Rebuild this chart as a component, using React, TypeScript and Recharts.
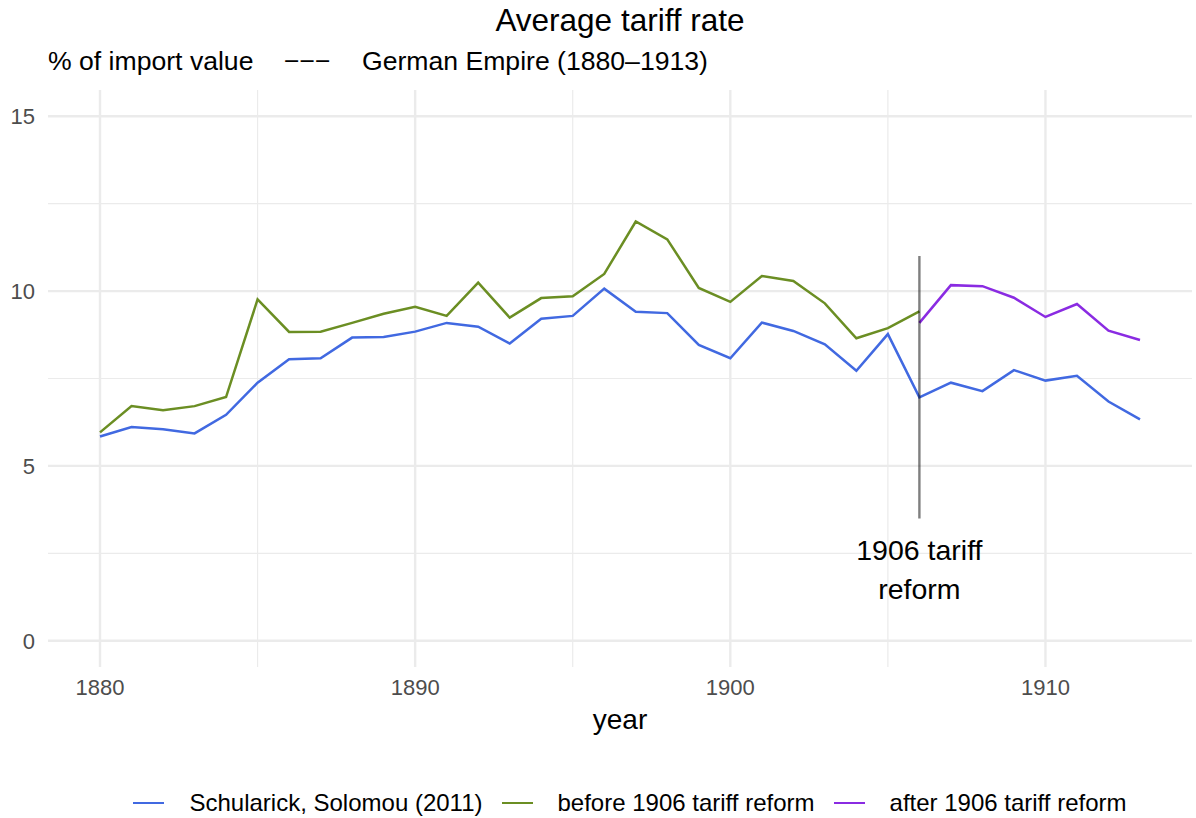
import React from 'react';
import { LineChart, Line, XAxis, YAxis, ReferenceLine, ReferenceDot, Legend } from 'recharts';

const years = [1880, 1881, 1882, 1883, 1884, 1885, 1886, 1887, 1888, 1889, 1890, 1891, 1892, 1893, 1894, 1895, 1896, 1897, 1898, 1899, 1900, 1901, 1902, 1903, 1904, 1905, 1906, 1907, 1908, 1909, 1910, 1911, 1912, 1913];
const schularick = [5.84, 6.11, 6.05, 5.93, 6.46, 7.38, 8.05, 8.08, 8.67, 8.69, 8.84, 9.09, 8.98, 8.50, 9.21, 9.29, 10.07, 9.41, 9.37, 8.46, 8.08, 9.10, 8.86, 8.48, 7.72, 8.77, 6.96, 7.38, 7.14, 7.74, 7.44, 7.58, 6.84, 6.33];
const beforeYears = [1880, 1881, 1882, 1883, 1884, 1885, 1886, 1887, 1888, 1889, 1890, 1891, 1892, 1893, 1894, 1895, 1896, 1897, 1898, 1899, 1900, 1901, 1902, 1903, 1904, 1905, 1906];
const beforeReform = [5.96, 6.71, 6.59, 6.71, 6.97, 9.76, 8.83, 8.84, 9.09, 9.35, 9.55, 9.29, 10.24, 9.24, 9.80, 9.85, 10.49, 11.99, 11.48, 10.09, 9.69, 10.43, 10.29, 9.65, 8.65, 8.94, 9.42];
const afterYears = [1906, 1907, 1908, 1909, 1910, 1911, 1912, 1913];
const afterReform = [9.09, 10.17, 10.14, 9.81, 9.26, 9.63, 8.87, 8.60];

const xTicks = [1880, 1890, 1900, 1910];
const xMinor = [1885, 1895, 1905];
const yTicks = [0, 5, 10, 15];
const yMinor = [2.5, 7.5, 12.5];

const seriesNames = ['Schularick, Solomou (2011)', 'before 1906 tariff reform', 'after 1906 tariff reform'];
const seriesColors = ['#4169E1', '#6B8E23', '#8A2BE2'];

const reformYear = 1906;
const reformLine = [3.5, 11];
const reformLabelY = 2;

const data = years.map((year, i) => {
  const bi = beforeYears.indexOf(year);
  const ai = afterYears.indexOf(year);
  return {
    year,
    schularick: schularick[i],
    before: bi >= 0 ? beforeReform[bi] : null,
    after: ai >= 0 ? afterReform[ai] : null,
  };
});

const FONT = '"Liberation Sans", Arial, Helvetica, sans-serif';

const LegendContent = () => (
  <div style={{ display: 'flex', justifyContent: 'center', alignItems: 'center', height: 30, fontFamily: FONT, fontSize: 24, color: '#000' }}>
    {seriesNames.map((n, i) => (
      <div key={n} style={{ display: 'flex', alignItems: 'center', marginLeft: i === 0 ? 0 : 19 }}>
        <div style={{ width: 31, height: 2.6, background: seriesColors[i], marginRight: 25 }} />
        <span style={{ whiteSpace: 'nowrap' }}>{n}</span>
      </div>
    ))}
  </div>
);

const AnnotationShape = (props: any) => {
  const { cx, cy } = props;
  return (
    <text x={cx} textAnchor="middle" fontFamily={FONT} fontSize={28.5} fill="#000">
      <tspan x={cx} y={cy - 11}>1906 tariff</tspan>
      <tspan x={cx} y={cy + 28}>reform</tspan>
    </text>
  );
};

export default function App() {
  return (
    <div style={{ position: 'absolute', left: 0, top: 0, width: 1196, height: 818, background: '#fff', fontFamily: FONT }}>
      <LineChart width={1196} height={818} data={data} margin={{ top: 90, right: 4, bottom: 91, left: 0 }}>
        <XAxis
          dataKey="year"
          type="number"
          domain={[1878.35, 1914.65]}
          ticks={xTicks}
          allowDataOverflow
          axisLine={false}
          tickLine={false}
          tickSize={0}
          tickMargin={12}
          height={30}
          tick={{ fill: '#4d4d4d', fontSize: 22, fontFamily: FONT }}
        />
        <YAxis
          type="number"
          domain={[-0.75, 15.75]}
          ticks={yTicks}
          allowDataOverflow
          axisLine={false}
          tickLine={false}
          tickSize={0}
          tickMargin={13}
          width={48}
          tick={{ fill: '#4d4d4d', fontSize: 22, fontFamily: FONT }}
        />
        {yMinor.map((v) => (
          <ReferenceLine key={'ym' + v} y={v} stroke="#ebebeb" strokeWidth={1.2} />
        ))}
        {xMinor.map((v) => (
          <ReferenceLine key={'xm' + v} x={v} stroke="#ebebeb" strokeWidth={1.2} />
        ))}
        {yTicks.map((v) => (
          <ReferenceLine key={'y' + v} y={v} stroke="#ebebeb" strokeWidth={2.4} />
        ))}
        {xTicks.map((v) => (
          <ReferenceLine key={'x' + v} x={v} stroke="#ebebeb" strokeWidth={2.4} />
        ))}
        <Line dataKey="schularick" name={seriesNames[0]} stroke={seriesColors[0]} strokeWidth={2.5} dot={false} activeDot={false} isAnimationActive={false} />
        <Line dataKey="before" name={seriesNames[1]} stroke={seriesColors[1]} strokeWidth={2.5} dot={false} activeDot={false} isAnimationActive={false} />
        <Line dataKey="after" name={seriesNames[2]} stroke={seriesColors[2]} strokeWidth={2.5} dot={false} activeDot={false} isAnimationActive={false} />
        <ReferenceLine
          segment={[{ x: reformYear, y: reformLine[0] }, { x: reformYear, y: reformLine[1] }]}
          stroke="#000"
          strokeOpacity={0.5}
          strokeWidth={2.4}
        />
        <ReferenceDot x={reformYear} y={reformLabelY} r={0} shape={AnnotationShape} />
        <Legend
          content={LegendContent}
          wrapperStyle={{ position: 'absolute', left: 32, top: 788, width: 1196, height: 30 }}
        />
      </LineChart>
      <svg width={1196} height={818} style={{ position: 'absolute', left: 0, top: 0, pointerEvents: 'none' }}>
        <text x={620} y={31} textAnchor="middle" fontFamily={FONT} fontSize={31.5} fill="#000">Average tariff rate</text>
        <text x={48} y={70} fontFamily={FONT} fontSize={26.6} fill="#000">% of import value</text>
        <text x={284} y={70} fontFamily={FONT} fontSize={26.6} fill="#000">−−−</text>
        <text x={362} y={70} fontFamily={FONT} fontSize={26.6} fill="#000">German Empire (1880–1913)</text>
        <text x={620} y={729} textAnchor="middle" fontFamily={FONT} fontSize={28} fill="#000">year</text>
      </svg>
    </div>
  );
}
